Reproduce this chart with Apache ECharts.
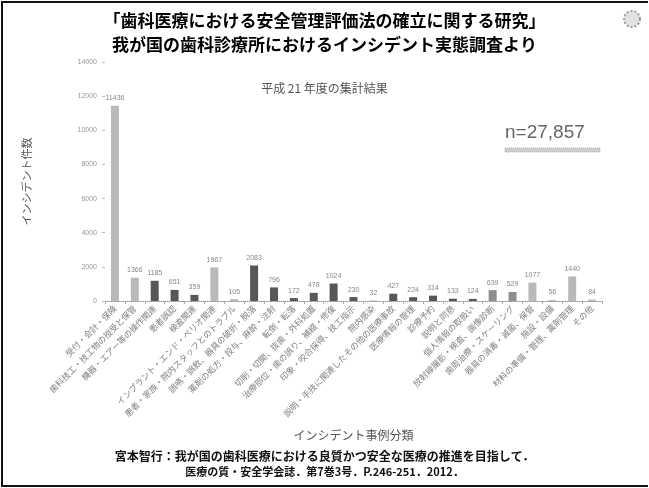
<!DOCTYPE html>
<html>
<head>
<meta charset="utf-8">
<script src="https://cdn.jsdelivr.net/npm/echarts@6/dist/echarts.min.js"></script>
<style>
  html, body { margin: 0; padding: 0; background: #fff; }
  #chart { width: 649px; height: 488px; }
</style>
</head>
<body>
<div id="chart"></div>
<script>
// インシデント事例分類ごとの件数（平成21年度）
const categories = [
  '受付・会計・保険',
  '歯科技工・技工物の授受と保管',
  '機器・エアー等の操作関連',
  '患者誤認',
  '検査関連',
  'インプラント・エンド・ペリオ関連',
  '患者・家族・院内スタッフとのトラブル',
  '誤嚥・誤飲、器具の破折・脱落',
  '薬剤の処方・投与、麻酔・注射',
  '転倒・転落',
  '切削・切開、抜歯・外科処置',
  '治療部位・歯の誤り、補綴・修復',
  '印象・咬合採得、技工指示',
  '院内感染',
  '説明・手技に関連したその他の医療事故',
  '医療情報の管理',
  '診療予約',
  '説明と同意',
  '個人情報の取扱い',
  '放射線撮影・検査、画像診断',
  '歯周治療・スケーリング',
  '器具の消毒・滅菌、保管',
  '施設・設備',
  '材料の準備・管理、薬剤管理',
  'その他'
];
const incidentCounts = [
  11436, 1366, 1185, 651, 359, 1967, 105, 2083, 796, 172,
  478, 1024, 230, 32, 427, 224, 314, 133, 124, 639,
  529, 1077, 56, 1440, 84
];
const yTicks = { min: 0, max: 14000, step: 2000 };
const totalLabel = 'n=27,857';

// bar shading: light / mid / dark grey
const shadeColors = { L: '#b9b9b9', M: '#8e8e8e', D: '#575757' };
const barShades = ['L','L','D','D','D','L','L','D','D','D','D','D','D','L','D','D','D','D','D','M','M','L','L','L','L'];

const JP = '"Noto Sans CJK JP", "Noto Sans", sans-serif';

const chart = echarts.init(document.getElementById('chart'), null, { renderer: 'canvas' });

chart.setOption({
  backgroundColor: '#fff',
  animation: false,
  textStyle: { fontFamily: JP },
  title: [
    {
      text: '「歯科医療における安全管理評価法の確立に関する研究」\n我が国の歯科診療所におけるインシデント実態調査より',
      left: 'center', top: 4,
      textStyle: { fontSize: 17, fontWeight: 'bold', color: '#000', lineHeight: 24, fontFamily: JP }
    },
    {
      text: '平成 21 年度の集計結果',
      left: 'center', top: 77,
      textStyle: { fontSize: 12, fontWeight: 'normal', color: '#555', fontFamily: JP }
    }
  ],
  grid: { left: 105, right: 47, top: 62, bottom: 187 },
  xAxis: {
    type: 'category',
    data: categories,
    name: 'インシデント事例分類',
    nameLocation: 'middle',
    nameGap: 128,
    nameTextStyle: { fontSize: 12, color: '#555', fontFamily: JP },
    axisLine: { show: true, lineStyle: { color: '#999', type: 'dotted', width: 1 } },
    axisTick: { show: true, length: 3, lineStyle: { color: '#aaa' } },
    axisLabel: { rotate: 45, fontSize: 8.5, color: '#808080', margin: 6, interval: 0, fontFamily: JP }
  },
  yAxis: {
    type: 'value',
    min: yTicks.min, max: yTicks.max, interval: yTicks.step,
    name: 'インシデント件数',
    nameLocation: 'middle',
    nameGap: 73,
    nameTextStyle: { fontSize: 11, color: '#555', fontFamily: JP },
    axisLine: { show: false },
    axisTick: { show: true, length: 3, lineStyle: { color: '#bbb' } },
    splitLine: { show: false },
    axisLabel: { fontSize: 7, color: '#999', margin: 8, fontFamily: 'Liberation Sans, sans-serif',
      formatter: v => String(v) }
  },
  series: [{
    type: 'bar',
    data: incidentCounts.map((v, i) => ({
      value: v,
      itemStyle: { color: shadeColors[barShades[i]] }
    })),
    barWidth: 8,
    label: {
      show: true, position: 'top', distance: 4,
      fontSize: 7, color: '#888', fontFamily: 'Liberation Sans, sans-serif'
    }
  }],
  graphic: [
    // outer frame
    { type: 'polyline', silent: true,
      shape: { points: [[648, 2], [2, 2], [2, 486], [648, 486]] },
      style: { stroke: '#111', lineWidth: 2, fill: null } },
    // corner emblem
    { type: 'circle', silent: true, shape: { cx: 632, cy: 19, r: 8 },
      style: { fill: '#e2e2e2', stroke: '#9a9a9a', lineWidth: 2, lineDash: [2, 2] } },
    // total count
    { type: 'text', silent: true, left: 505, top: 123,
      style: { text: totalLabel, fontSize: 19, fill: '#666', fontFamily: 'Liberation Sans, sans-serif' } },
    { type: 'rect', silent: true, shape: { x: 505, y: 148, width: 95, height: 4 },
      style: { fill: '#cfcfcf', stroke: '#aaa', lineWidth: 1, lineDash: [1, 1] } },
    // citation
    { type: 'text', silent: true, left: 'center', top: 450,
      style: { text: '宮本智行：我が国の歯科医療における良質かつ安全な医療の推進を目指して．',
        fontSize: 12, fontWeight: 'bold', fill: '#111', fontFamily: JP } },
    { type: 'text', silent: true, left: 'center', top: 466,
      style: { text: '医療の質・安全学会誌．第7巻3号．P.246-251．2012．',
        fontSize: 11, fontWeight: 'bold', fill: '#111', fontFamily: JP } }
  ]
});
</script>
</body>
</html>
